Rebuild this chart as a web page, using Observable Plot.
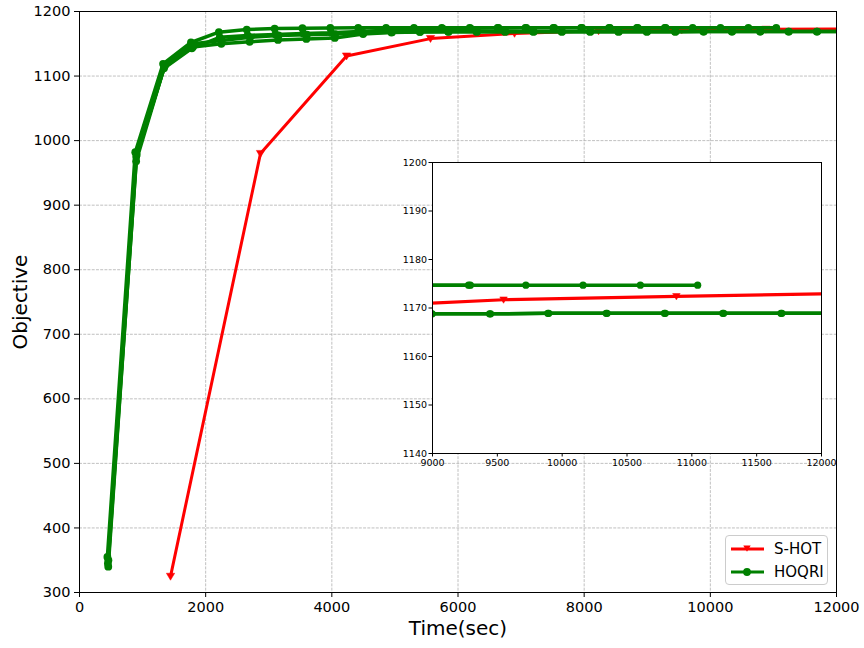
<!DOCTYPE html>
<html>
<head>
<meta charset="utf-8">
<script src="https://cdn.jsdelivr.net/npm/d3@7"></script>
<script src="https://cdn.jsdelivr.net/npm/@observablehq/plot@0.6"></script>
<style>
  body { margin: 0; background: #fff; font-family: "DejaVu Sans", sans-serif; }
  #wrap { position: relative; width: 864px; height: 648px; overflow: hidden; }
  #wrap > svg { position: absolute; left: 0; top: 0; }
  #legend { position: absolute; left: 725px; top: 535px; width: 101px; height: 48px;
    border: 1px solid #cccccc; border-radius: 4px; background: rgba(255,255,255,0.85); }
  #legend .row { position: absolute; left: 5px; height: 20px; display: flex; align-items: center; }
  #legend .row span { margin-left: 10px; font-size: 15px; color: #000; font-family: "DejaVu Sans", sans-serif; }
</style>
</head>
<body>
<div id="wrap"></div>
<script>
// ---- Data ----
const shotTime = [1443, 2869, 4233, 5564, 6896, 8228, 9548, 10881, 12213];
const shotObj  = [325, 980, 1131, 1158, 1166, 1170.0, 1171.7, 1172.4, 1173.0];

const hoqri1Time = [442, 884, 1325, 1767, 2209, 2651, 3093, 3534, 3976, 4418, 4860, 5302, 5743, 6185, 6627, 7069, 7511, 7952, 8394, 8836, 9278, 9720, 10161, 10603, 11045];
const hoqri1Obj  = [355, 982, 1119, 1152, 1168, 1172, 1173.5, 1174.2, 1174.5, 1174.7, 1174.7, 1174.7, 1174.7, 1174.7, 1174.7, 1174.7, 1174.7, 1174.7, 1174.7, 1174.7, 1174.7, 1174.7, 1174.7, 1174.7, 1174.7];

const hoqri2Time = [456, 898, 1339, 1781, 2223, 2665, 3107, 3548, 3990, 4432, 4874, 5316, 5757, 6199, 6641, 7083, 7525, 7966, 8408, 8850, 9292];
const hoqri2Obj  = [340, 968, 1112, 1143, 1160, 1163, 1164.5, 1166, 1167, 1169, 1171, 1172.5, 1173.5, 1174, 1174.5, 1174.7, 1174.7, 1174.7, 1174.7, 1174.7, 1174.7];

const hoqri3Time = [450, 899, 1349, 1798, 2248, 2697, 3147, 3596, 4046, 4495, 4945, 5394, 5844, 6293, 6743, 7192, 7642, 8091, 8541, 8990, 9440, 9889, 10339, 10788, 11238, 11687, 12137];
const hoqri3Obj  = [345, 975, 1115, 1145, 1150, 1153, 1156, 1157.5, 1159, 1165, 1167.5, 1168.3, 1168.6, 1168.7, 1168.7, 1168.8, 1168.8, 1168.8, 1168.8, 1168.8, 1168.8, 1168.9, 1168.9, 1168.9, 1168.9, 1168.9, 1168.9];

const hoqri4Time = [458, 907, 1357, 1806, 2256, 2705, 3155, 3604, 4054, 4503, 4953, 5402, 5852, 6301, 6751, 7200, 7650, 8099, 8549, 8998, 9448, 9897, 10347, 10796, 11246, 11695, 12145];
const hoqri4Obj  = [350, 978, 1117, 1150, 1155, 1160, 1163, 1164, 1165, 1167, 1168, 1168.5, 1168.7, 1168.8, 1168.8, 1168.8, 1168.8, 1168.8, 1168.8, 1168.8, 1168.8, 1168.9, 1168.9, 1168.9, 1168.9, 1168.9, 1168.9];

const mainXTicks = [0, 2000, 4000, 6000, 8000, 10000, 12000];
const mainYTicks = [300, 400, 500, 600, 700, 800, 900, 1000, 1100, 1200];
const insetXTicks = [9000, 9500, 10000, 10500, 11000, 11500, 12000];
const insetYTicks = [1140, 1150, 1160, 1170, 1180, 1190, 1200];

// ---- Tables ----
const shot = shotTime.map((t, i) => ({t, v: shotObj[i]}));
const greenRuns = [[hoqri1Time, hoqri1Obj], [hoqri2Time, hoqri2Obj], [hoqri3Time, hoqri3Obj], [hoqri4Time, hoqri4Obj]];
const hoqri = greenRuns.flatMap(([ts, vs], k) => ts.map((t, i) => ({t, v: vs[i], run: k})));

const triDown = {
  draw(c, size) {
    const s = Math.sqrt(size);
    c.moveTo(-0.56 * s, -0.42 * s);
    c.lineTo(0.56 * s, -0.42 * s);
    c.lineTo(0, 0.52 * s);
    c.closePath();
  }
};
const fmt = d => String(d);
const RED = "#ff0000", GREEN = "#008000";
const gridStyle = {stroke: "#b0b0b0", strokeOpacity: 1, strokeDasharray: "2.96,1.28", strokeWidth: 0.8};

const main = Plot.plot({
  width: 864, height: 648,
  marginLeft: 79, marginRight: 28, marginTop: 11, marginBottom: 56,
  x: {domain: [0, 12000]},
  y: {domain: [300, 1200]},
  style: {fontFamily: "DejaVu Sans", fontSize: "14px", color: "#000", background: "transparent", overflow: "visible"},
  marks: [
    Plot.gridX(mainXTicks, gridStyle),
    Plot.gridY(mainYTicks, gridStyle),
    Plot.line(shot, {x: "t", y: "v", stroke: RED, strokeWidth: 3, clip: true}),
    Plot.dot(shot, {x: "t", y: "v", symbol: triDown, r: 4.2, fill: RED, stroke: RED, strokeWidth: 0.5, clip: true}),
    Plot.line(hoqri, {x: "t", y: "v", z: "run", stroke: GREEN, strokeWidth: 3.5, clip: true}),
    Plot.dot(hoqri, {x: "t", y: "v", r: 3.9, fill: GREEN, clip: true}),
    Plot.frame({stroke: "#000", strokeWidth: 1}),
    Plot.axisX(mainXTicks, {tickSize: 5, tickPadding: 4, tickFormat: fmt, fontSize: 14.5, label: null}),
    Plot.axisY(mainYTicks, {tickSize: 5, tickPadding: 4, tickFormat: fmt, fontSize: 14.5, label: null}),
    Plot.text(["Time(sec)"], {frameAnchor: "bottom", dy: 36, lineAnchor: "middle", textAnchor: "middle", fontSize: 20}),
    Plot.text(["Objective"], {frameAnchor: "left", dx: -59, rotate: -90, lineAnchor: "middle", textAnchor: "middle", fontSize: 20})
  ]
});

const inset = Plot.plot({
  width: 864, height: 648,
  marginLeft: 432, marginRight: 43, marginTop: 162, marginBottom: 195,
  x: {domain: [9000, 12000]},
  y: {domain: [1140, 1200]},
  style: {fontFamily: "DejaVu Sans", fontSize: "9.5px", color: "#000", background: "transparent", overflow: "visible"},
  marks: [
    Plot.frame({fill: "#ffffff", stroke: "none"}),
    Plot.line(shot, {x: "t", y: "v", stroke: RED, strokeWidth: 3.2, clip: true}),
    Plot.dot(shot, {x: "t", y: "v", symbol: triDown, r: 3.8, fill: RED, stroke: RED, strokeWidth: 0.5, clip: true}),
    Plot.line(hoqri, {x: "t", y: "v", z: "run", stroke: GREEN, strokeWidth: 3.5, clip: true}),
    Plot.dot(hoqri, {x: "t", y: "v", r: 3.6, fill: GREEN, clip: true}),
    Plot.frame({stroke: "#000", strokeWidth: 1}),
    Plot.axisX(insetXTicks, {tickSize: 3.5, tickPadding: 2, tickFormat: fmt, fontSize: 9.5, label: null}),
    Plot.axisY(insetYTicks, {tickSize: 3.5, tickPadding: 2, tickFormat: fmt, fontSize: 9.5, label: null})
  ]
});

const wrap = document.getElementById("wrap");
wrap.appendChild(main);
wrap.appendChild(inset);

// Legend (HTML overlay)
const legend = document.createElement("div");
legend.id = "legend";
const entries = [
  {label: "S-HOT", color: RED, marker: "tri"},
  {label: "HOQRI", color: GREEN, marker: "circle"}
];
entries.forEach((e, i) => {
  const row = document.createElement("div");
  row.className = "row";
  row.style.top = (3 + i * 23) + "px";
  const m = e.marker === "tri"
    ? `<path d="M12.3,6.4 L19.7,6.4 L16,12.8 Z" fill="${e.color}"/>`
    : `<circle cx="16" cy="10" r="3.9" fill="${e.color}"/>`;
  row.innerHTML = `<svg width="33" height="20"><line x1="0" y1="10" x2="33" y2="10" stroke="${e.color}" stroke-width="3"/>${m}</svg><span>${e.label}</span>`;
  legend.appendChild(row);
});
wrap.appendChild(legend);
</script>
</body>
</html>
